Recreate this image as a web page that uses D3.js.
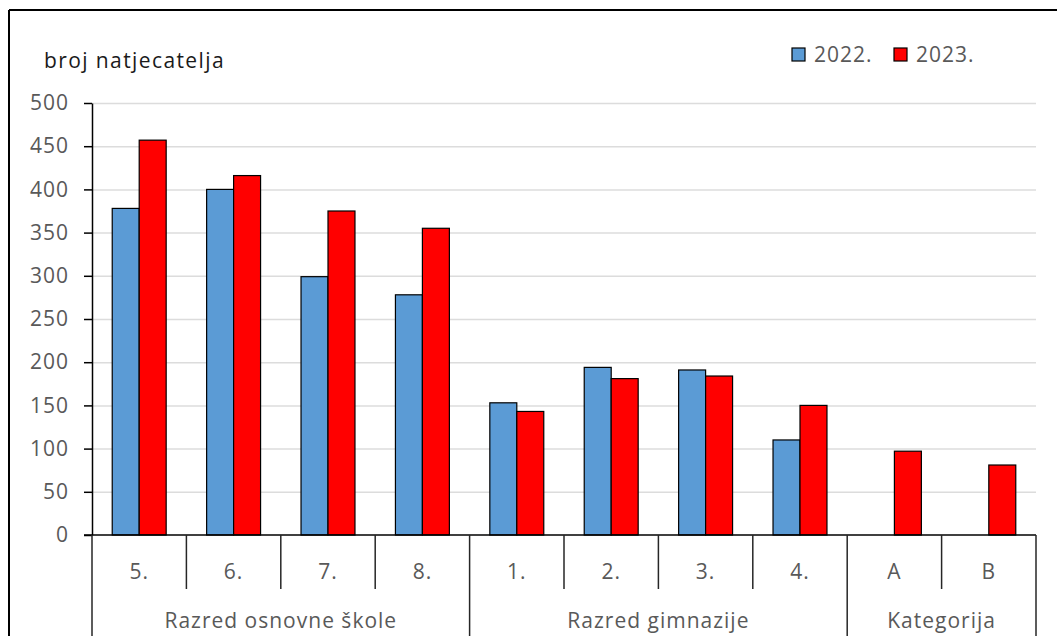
<!DOCTYPE html>
<html>
<head>
<meta charset="utf-8">
<script src="https://cdn.jsdelivr.net/npm/d3@7"></script>
<style>
  body { margin: 0; background: #fff; }
  svg { display: block; font-family: "Open Sans", Lato, sans-serif; }
  .tick-label { fill: #595959; font-size: 21px; letter-spacing: 1px; }
</style>
</head>
<body>
<div id="chart"></div>
<script>
(() => {
  // podaci
  const categories = ['5.', '6.', '7.', '8.', '1.', '2.', '3.', '4.', 'A', 'B'];
  const values2022 = [378, 400, 299, 278, 153, 194, 191, 110, null, null];
  const values2023 = [457, 416, 375, 355, 143, 181, 184, 150, 97, 81];
  const seriesNames = ['2022.', '2023.'];
  const groupNames = ['Razred osnovne škole', 'Razred gimnazije', 'Kategorija'];
  const groupSizes = [4, 4, 2];
  const yTicks = [0, 50, 100, 150, 200, 250, 300, 350, 400, 450, 500];

  const colors = ['#5b9bd5', '#ff0000'];
  const W = 1057, H = 636;
  const left = 92, right = 1036, top = 103, bottom = 535;

  const svg = d3.select('#chart').append('svg')
      .attr('width', W).attr('height', H);

  // okvir (gornji i lijevi rub)
  svg.append('line').attr('x1', 9).attr('x2', W).attr('y1', 10).attr('y2', 10)
      .attr('stroke', '#000').attr('stroke-width', 2);
  svg.append('line').attr('x1', 9).attr('x2', 9).attr('y1', 10).attr('y2', H)
      .attr('stroke', '#000').attr('stroke-width', 2);

  const x = d3.scaleBand().domain(categories).range([left, right]).padding(0);
  const xs = d3.scaleBand().domain(seriesNames).range([0, x.bandwidth()])
      .paddingInner(0).paddingOuter(0.75);
  const y = d3.scaleLinear().domain([0, 500]).range([bottom, top]);

  // mreža
  svg.append('g').selectAll('line').data(yTicks.filter(d => d > 0)).enter()
      .append('line')
      .attr('x1', left).attr('x2', right)
      .attr('y1', d => y(d) + 0.5).attr('y2', d => y(d) + 0.5)
      .attr('stroke', '#dcdcdc').attr('stroke-width', 1.5);

  // stupci
  const rows = categories.map((c, i) => ({ c, v: [values2022[i], values2023[i]] }));
  rows.forEach(r => {
    r.v.forEach((v, k) => {
      if (v == null) return;
      svg.append('rect')
          .attr('x', x(r.c) + xs(seriesNames[k]))
          .attr('y', y(v))
          .attr('width', xs.bandwidth())
          .attr('height', y(0) - y(v))
          .attr('fill', colors[k])
          .attr('stroke', '#000').attr('stroke-width', 1.2);
    });
  });

  // y os
  const yAxis = svg.append('g')
      .attr('transform', `translate(${left},0)`)
      .call(d3.axisLeft(y).tickValues(yTicks).tickSize(8).tickSizeOuter(0).tickPadding(15));
  yAxis.select('.domain').attr('stroke', '#000').attr('stroke-width', 1.5);
  yAxis.selectAll('.tick line').attr('stroke', '#000').attr('stroke-width', 1.5);
  yAxis.selectAll('.tick text').attr('class', 'tick-label').attr('font-family', null)
      .attr('font-size', null).attr('fill', null);
  yAxis.attr('font-family', null).attr('font-size', null);

  // x os i tablica kategorija
  svg.append('line').attr('x1', left - 8).attr('x2', right)
      .attr('y1', bottom).attr('y2', bottom)
      .attr('stroke', '#000').attr('stroke-width', 1.5);

  const groupEdges = [0];
  groupSizes.forEach(n => groupEdges.push(groupEdges[groupEdges.length - 1] + n));

  d3.range(categories.length + 1).forEach(i => {
    const xp = i < categories.length ? x(categories[i]) : right;
    const isGroup = groupEdges.includes(i);
    svg.append('line')
        .attr('x1', xp).attr('x2', xp)
        .attr('y1', bottom).attr('y2', isGroup ? H : 589)
        .attr('stroke', '#262626').attr('stroke-width', 1.5);
  });

  svg.append('g').selectAll('text').data(categories).enter()
      .append('text').attr('class', 'tick-label')
      .attr('x', d => x(d) + x.bandwidth() / 2)
      .attr('y', 579)
      .attr('text-anchor', 'middle')
      .text(d => d);

  svg.append('g').selectAll('text').data(groupNames).enter()
      .append('text').attr('class', 'tick-label')
      .attr('x', (d, i) => {
        const a = x(categories[groupEdges[i]]);
        const b = groupEdges[i + 1] < categories.length ? x(categories[groupEdges[i + 1]]) : right;
        return (a + b) / 2;
      })
      .attr('y', 628)
      .attr('text-anchor', 'middle')
      .text(d => d);

  // naslov osi
  svg.append('text')
      .attr('x', 44).attr('y', 68)
      .attr('fill', '#1a1a1a').attr('font-size', 21)
      .style('letter-spacing', '1.4px')
      .text('broj natjecatelja');

  // legenda
  const legendX = [792, 894];
  seriesNames.forEach((s, k) => {
    svg.append('rect')
        .attr('x', legendX[k]).attr('y', 48)
        .attr('width', 13).attr('height', 13)
        .attr('fill', colors[k]).attr('stroke', '#000').attr('stroke-width', 1.2);
    svg.append('text').attr('class', 'tick-label')
        .attr('x', legendX[k] + 22).attr('y', 62)
        .text(s);
  });
})();
</script>
</body>
</html>
